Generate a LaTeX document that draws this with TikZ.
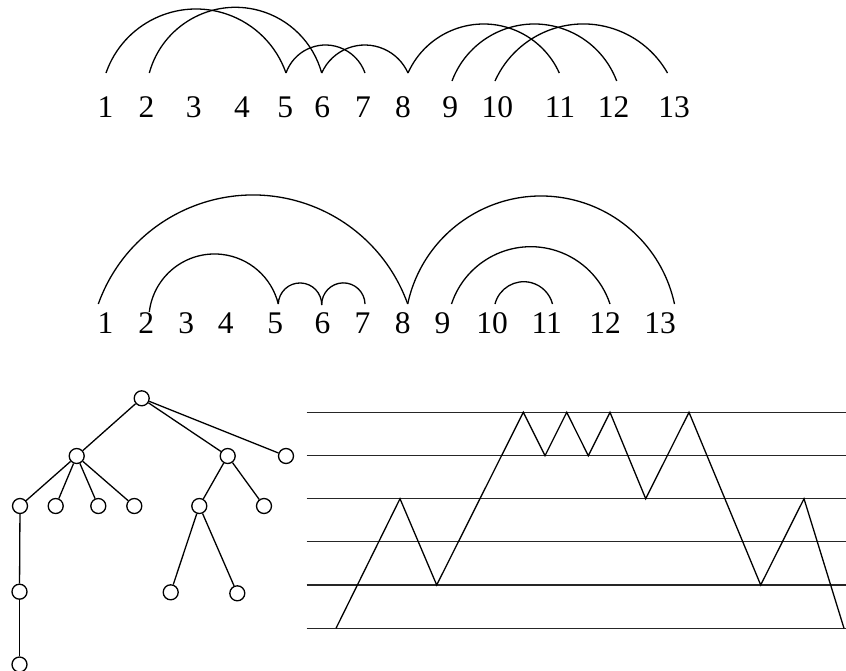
\documentclass[tikz,border=0pt]{standalone}
\usepackage{fontspec}
\setmainfont{Liberation Serif}
\usetikzlibrary{calc}
\tikzset{
  ln/.style={line width=1.3pt, black},
  lab/.style={anchor=base, inner sep=0pt, font=\fontsize{31.5}{32}\selectfont},
  vtx/.style={circle, draw, line width=1.3pt, minimum size=15pt, inner sep=0pt},
}
\newcommand\archto[3]{%
  \draw[ln] let \p1=(#1), \p2=(#2),
    \n1={veclen((\x2-\x1)/10,(\y2-\y1)/10)*5},
    \n2={atan2(\y2-\y1,\x2-\x1)},
    \n3={\n1*(\n1/#3)/2 + #3/2},
    \n4={asin(\n1/\n3)} in
    (#1) arc[start angle={\n2+90+\n4}, delta angle={-2*\n4}, radius={\n3}];}
\begin{document}
\begin{tikzpicture}[x=1pt,y=1pt]
\useasboundingbox (0,0) rectangle (846,-670);
% ---------- top arc diagram ----------
\coordinate (t1) at (106,-73);
\coordinate (t2) at (149.3,-73);
\coordinate (t5) at (286,-73);
\coordinate (t6) at (321.7,-73);
\coordinate (t7) at (365,-73);
\coordinate (t8) at (408,-73);
\coordinate (t9) at (452,-81);
\coordinate (t10) at (495,-81);
\coordinate (t11) at (559.3,-73);
\coordinate (t12) at (616.7,-81);
\coordinate (t13) at (667.5,-73);
\archto{t1}{t5}{64}
\archto{t2}{t6}{65.7}
\archto{t5}{t7}{28}
\archto{t6}{t8}{28}
\archto{t8}{t11}{49}
\archto{t9}{t12}{57}
\archto{t10}{t13}{53}
\node[lab] (tl1) at (105.5,-117) {1};
\node[lab] (tl2) at (146.5,-117) {2};
\node[lab] (tl3) at (193.7,-117) {3};
\node[lab] (tl4) at (242,-117) {4};
\node[lab] (tl5) at (285.3,-117) {5};
\node[lab] (tl6) at (322.2,-117) {6};
\node[lab] (tl7) at (363,-117) {7};
\node[lab] (tl8) at (403,-117) {8};
\node[lab] (tl9) at (450.3,-117) {9};
\node[lab] (tl10) at (497.3,-117) {10};
\node[lab] (tl11) at (560,-117) {11};
\node[lab] (tl12) at (613.5,-117) {12};
\node[lab] (tl13) at (674.2,-117) {13};
% ---------- bottom arc diagram ----------
\coordinate (b1) at (98.3,-304);
\coordinate (b2) at (149.3,-312);
\coordinate (b5) at (278.3,-304);
\coordinate (b6) at (321.7,-305);
\coordinate (b7) at (365,-304);
\coordinate (b8) at (407.7,-304);
\coordinate (b9) at (451.5,-304);
\coordinate (b10) at (495,-304);
\coordinate (b11) at (552.5,-304);
\coordinate (b12) at (610,-304);
\coordinate (b13) at (674.5,-304);
\archto{b1}{b8}{109}
\archto{b2}{b5}{54}
\archto{b5}{b6}{21.3}
\archto{b6}{b7}{21.5}
\archto{b8}{b13}{108}
\archto{b9}{b12}{57.3}
\archto{b10}{b11}{22.3}
\node[lab] (bl1) at (105.5,-333.3) {1};
\node[lab] (bl2) at (146.2,-333.3) {2};
\node[lab] (bl3) at (186.2,-333.3) {3};
\node[lab] (bl4) at (225.8,-333.3) {4};
\node[lab] (bl5) at (275.2,-333.3) {5};
\node[lab] (bl6) at (322.5,-333.3) {6};
\node[lab] (bl7) at (362.5,-333.3) {7};
\node[lab] (bl8) at (402.8,-333.3) {8};
\node[lab] (bl9) at (442.4,-333.3) {9};
\node[lab] (bl10) at (492,-333.3) {10};
\node[lab] (bl11) at (546.7,-333.3) {11};
\node[lab] (bl12) at (605.2,-333.3) {12};
\node[lab] (bl13) at (660,-333.3) {13};
% ---------- tree ----------
\node[vtx] (tr) at (141.7,-398.3) {};
\node[vtx] (ta) at (76.7,-456) {};
\node[vtx] (tb) at (227.7,-456) {};
\node[vtx] (tc) at (286,-456) {};
\node[vtx] (ta1) at (20,-506) {};
\node[vtx] (ta2) at (55.7,-506) {};
\node[vtx] (ta3) at (98.3,-506) {};
\node[vtx] (ta4) at (134.3,-506) {};
\node[vtx] (tb1) at (199.3,-506) {};
\node[vtx] (tb2) at (264,-506) {};
\node[vtx] (tb11) at (170.7,-592.3) {};
\node[vtx] (tb12) at (237.3,-593.3) {};
\node[vtx] (ta11) at (19.5,-591.7) {};
\node[vtx] (ta111) at (19.5,-664.5) {};
\draw[ln] (tr) -- (ta);
\draw[ln] (tr) -- (tb);
\draw[ln] (tr) -- (tc);
\draw[ln] (ta) -- (ta1);
\draw[ln] (ta) -- (ta2);
\draw[ln] (ta) -- (ta3);
\draw[ln] (ta) -- (ta4);
\draw[ln] (tb) -- (tb1);
\draw[ln] (tb) -- (tb2);
\draw[ln] (tb1) -- (tb11);
\draw[ln] (tb1) -- (tb12);
\draw[ln] (ta1) -- (ta11);
\draw[ln] (ta11) -- (ta111);
% ---------- lattice path ----------
\foreach \k/\yy in {0/628.3,1/585,2/541.7,3/498.7,4/455.7,5/412.3}{
  \coordinate (hl\k) at (306.7,-\yy);
  \coordinate (hr\k) at (846,-\yy);
  \draw[line width=1.2pt, black!85] (hl\k) -- (hr\k);
}
\coordinate (p0) at (336,-628.3);
\coordinate (p1) at (400,-498.7);
\coordinate (p2) at (436.7,-585);
\coordinate (p3) at (523.3,-412.3);
\coordinate (p4) at (545,-455.7);
\coordinate (p5) at (566.7,-412.3);
\coordinate (p6) at (588.3,-455.7);
\coordinate (p7) at (610,-412.3);
\coordinate (p8) at (645.7,-498.7);
\coordinate (p9) at (689,-412.3);
\coordinate (p10) at (760.7,-585);
\coordinate (p11) at (804,-498.7);
\coordinate (p12) at (844,-628.3);
\draw[ln, line join=miter] (p0) -- (p1) -- (p2) -- (p3) -- (p4) -- (p5) -- (p6) -- (p7) -- (p8) -- (p9) -- (p10) -- (p11) -- (p12);
\end{tikzpicture}
\end{document}
